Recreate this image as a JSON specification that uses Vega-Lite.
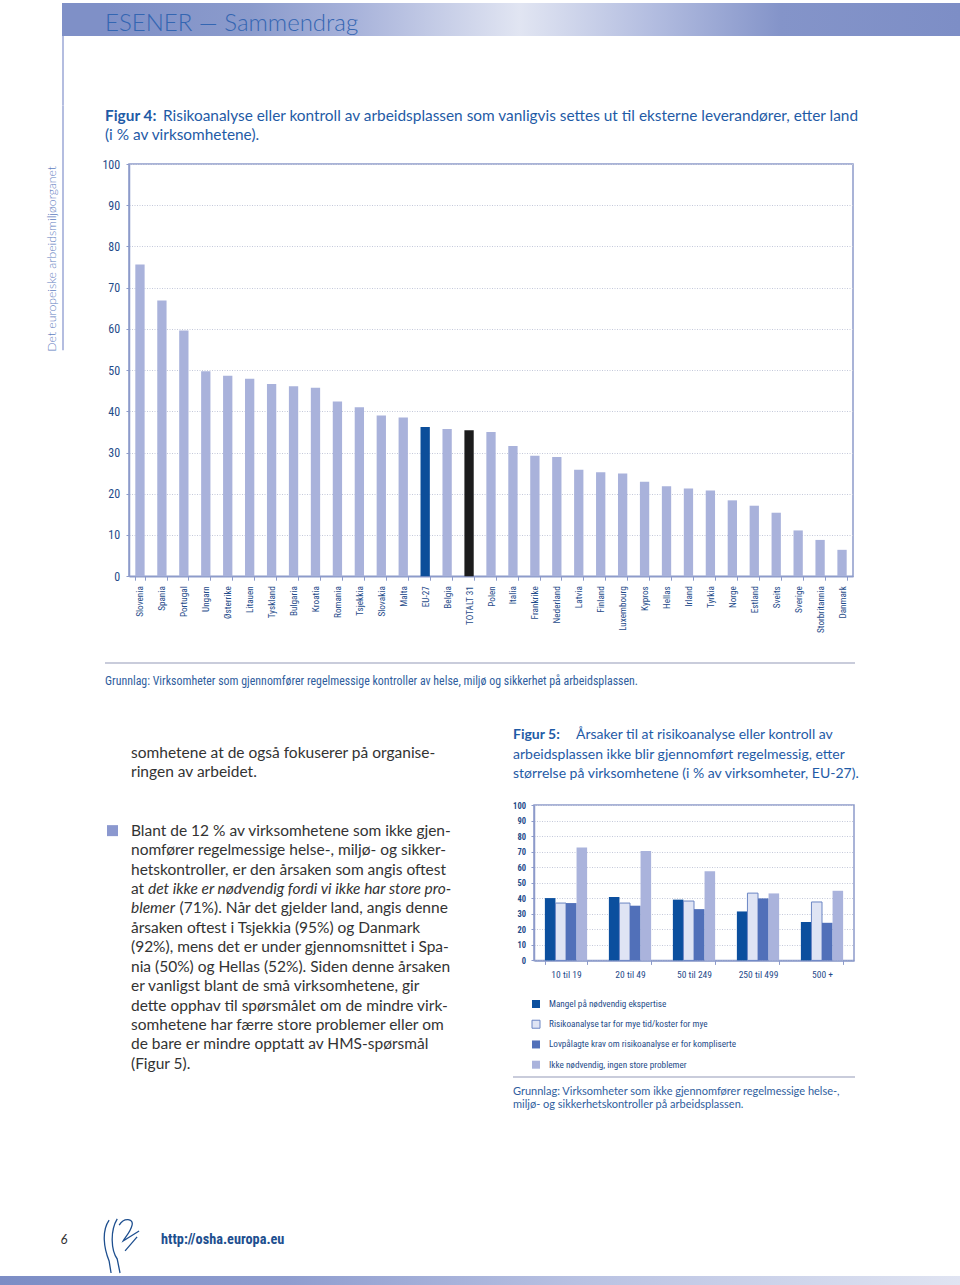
{
  "$schema": "https://vega.github.io/schema/vega-lite/v6.json",
  "padding": 0,
  "background": "white",
  "spacing": 0,
  "config": {"view": {"stroke": null}},
  "data": {"name": "empty"},
  "datasets": {
    "empty": [],
    "one": [{}],
    "land": [
      {"land": "Slovenia", "pct": 75.6}, {"land": "Spania", "pct": 66.9}, {"land": "Portugal", "pct": 59.6},
      {"land": "Ungarn", "pct": 49.7}, {"land": "Østerrike", "pct": 48.6}, {"land": "Litauen", "pct": 47.9},
      {"land": "Tyskland", "pct": 46.6}, {"land": "Bulgaria", "pct": 46.1}, {"land": "Kroatia", "pct": 45.7},
      {"land": "Romania", "pct": 42.4}, {"land": "Tsjekkia", "pct": 41.0}, {"land": "Slovakia", "pct": 39.0},
      {"land": "Malta", "pct": 38.5}, {"land": "EU-27", "pct": 36.2}, {"land": "Belgia", "pct": 35.7},
      {"land": "TOTALT 31", "pct": 35.4}, {"land": "Polen", "pct": 35.0}, {"land": "Italia", "pct": 31.6},
      {"land": "Frankrike", "pct": 29.2}, {"land": "Nederland", "pct": 28.9}, {"land": "Latvia", "pct": 25.8},
      {"land": "Finland", "pct": 25.2}, {"land": "Luxembourg", "pct": 24.9}, {"land": "Kypros", "pct": 22.9},
      {"land": "Hellas", "pct": 21.8}, {"land": "Irland", "pct": 21.3}, {"land": "Tyrkia", "pct": 20.8},
      {"land": "Norge", "pct": 18.4}, {"land": "Estland", "pct": 17.1}, {"land": "Sveits", "pct": 15.4},
      {"land": "Sverige", "pct": 11.1}, {"land": "Storbritannia", "pct": 8.8}, {"land": "Danmark", "pct": 6.4}
    ],
    "storrelse": [
      {"storrelse": "10 til 19", "arsak": "Mangel på nødvendig ekspertise", "pct": 40.1},
      {"storrelse": "10 til 19", "arsak": "Risikoanalyse tar for mye tid/koster for mye", "pct": 36.9},
      {"storrelse": "10 til 19", "arsak": "Lovpålagte krav om risikoanalyse er for kompliserte", "pct": 36.9},
      {"storrelse": "10 til 19", "arsak": "Ikke nødvendig, ingen store problemer", "pct": 72.7},
      {"storrelse": "20 til 49", "arsak": "Mangel på nødvendig ekspertise", "pct": 40.8},
      {"storrelse": "20 til 49", "arsak": "Risikoanalyse tar for mye tid/koster for mye", "pct": 36.9},
      {"storrelse": "20 til 49", "arsak": "Lovpålagte krav om risikoanalyse er for kompliserte", "pct": 35.2},
      {"storrelse": "20 til 49", "arsak": "Ikke nødvendig, ingen store problemer", "pct": 70.4},
      {"storrelse": "50 til 249", "arsak": "Mangel på nødvendig ekspertise", "pct": 39.1},
      {"storrelse": "50 til 249", "arsak": "Risikoanalyse tar for mye tid/koster for mye", "pct": 38.2},
      {"storrelse": "50 til 249", "arsak": "Lovpålagte krav om risikoanalyse er for kompliserte", "pct": 33.0},
      {"storrelse": "50 til 249", "arsak": "Ikke nødvendig, ingen store problemer", "pct": 57.3},
      {"storrelse": "250 til 499", "arsak": "Mangel på nødvendig ekspertise", "pct": 31.5},
      {"storrelse": "250 til 499", "arsak": "Risikoanalyse tar for mye tid/koster for mye", "pct": 43.3},
      {"storrelse": "250 til 499", "arsak": "Lovpålagte krav om risikoanalyse er for kompliserte", "pct": 39.9},
      {"storrelse": "250 til 499", "arsak": "Ikke nødvendig, ingen store problemer", "pct": 43.1},
      {"storrelse": "500 +", "arsak": "Mangel på nødvendig ekspertise", "pct": 24.7},
      {"storrelse": "500 +", "arsak": "Risikoanalyse tar for mye tid/koster for mye", "pct": 37.6},
      {"storrelse": "500 +", "arsak": "Lovpålagte krav om risikoanalyse er for kompliserte", "pct": 24.2},
      {"storrelse": "500 +", "arsak": "Ikke nødvendig, ingen store problemer", "pct": 44.8}
    ],
    "arsaker": [
      {"arsak": "Mangel på nødvendig ekspertise"},
      {"arsak": "Risikoanalyse tar for mye tid/koster for mye"},
      {"arsak": "Lovpålagte krav om risikoanalyse er for kompliserte"},
      {"arsak": "Ikke nødvendig, ingen store problemer"}
    ],
    "t5": [
      {"i": 1, "t": "arbeidsplassen ikke blir gjennomført regelmessig, etter"},
      {"i": 2, "t": "størrelse på virksomhetene (i % av virksomheter, EU-27)."}
    ],
    "leftr": [
      {"i": 2, "t": "somhetene at de også fokuserer på organise-"},
      {"i": 3, "t": "ringen av arbeidet."},
      {"i": 6, "t": "Blant de 12 % av virksomhetene som ikke gjen-"},
      {"i": 7, "t": "nomfører regelmessige helse-, miljø- og sikker-"},
      {"i": 8, "t": "hetskontroller, er den årsaken som angis oftest"},
      {"i": 9, "t": "at"},
      {"i": 11, "t": "årsaken oftest i Tsjekkia (95%) og Danmark"},
      {"i": 12, "t": "(92%), mens det er under gjennomsnittet i Spa-"},
      {"i": 13, "t": "nia (50%) og Hellas (52%). Siden denne årsaken"},
      {"i": 14, "t": "er vanligst blant de små virksomhetene, gir"},
      {"i": 15, "t": "dette opphav til spørsmålet om de mindre virk-"},
      {"i": 16, "t": "somhetene har færre store problemer eller om"},
      {"i": 17, "t": "de bare er mindre opptatt av HMS-spørsmål"},
      {"i": 18, "t": "(Figur 5)."}
    ],
    "left10r": [
      {"i": 10, "t": "(71%). Når det gjelder land, angis denne"}
    ],
    "lefti9": [
      {"i": 9, "t": "det ikke er nødvendig fordi vi ikke har store pro-"}
    ],
    "lefti10": [
      {"i": 10, "t": "blemer"}
    ],
    "fn2": [
      {"i": 1, "t": "Grunnlag: Virksomheter som ikke gjennomfører regelmessige helse-,"},
      {"i": 2, "t": "miljø- og sikkerhetskontroller på arbeidsplassen."}
    ]
  },
  "vconcat": [
    {"width": 960, "height": 3, "mark": "rect", "encoding": {}},

    {"hconcat": [
      {"width": 62, "height": 33, "mark": "rect", "encoding": {}},
      {"width": 43, "height": 33, "mark": "rect", "encoding": {}, "view": {"fill": "#7f90c7", "stroke": null}},
      {"width": 855, "height": 33, "data": {"name": "one"}, "layer": [
        {"mark": {"type": "rect", "color": {"gradient": "linear", "x1": 0, "y1": 0, "x2": 1, "y2": 0, "stops": [
          {"offset": 0, "color": "#7f90c7"}, {"offset": 0.17, "color": "#8b9bcc"}, {"offset": 0.29, "color": "#a7b2da"},
          {"offset": 0.485, "color": "#e1e5f2"}, {"offset": 0.64, "color": "#b3bde0"}, {"offset": 0.79, "color": "#8494c9"},
          {"offset": 1, "color": "#7d8ec6"}]}}, "encoding": {}},
        {"mark": {"type": "text", "text": "ESENER — Sammendrag", "align": "left", "baseline": "middle", "dy": 4, "font": "Lato, Open Sans, sans-serif", "fontSize": 24, "fontWeight": 300, "color": "#3466b2"},
         "encoding": {"x": {"datum": 0, "type": "quantitative", "scale": {"domain": [0, 1]}, "axis": null}}}
      ]}
    ], "spacing": 0, "bounds": "flush"},

    {"hconcat": [
      {"width": 62, "height": 69.7, "mark": "rect", "encoding": {}},
      {"width": 2, "height": 69.7, "mark": "rect", "encoding": {}, "view": {"fill": "#b4bde0", "stroke": null}}
    ], "spacing": 0, "bounds": "flush"},

    {"hconcat": [
      {"width": 62, "height": 19, "mark": "rect", "encoding": {}},
      {"width": 2, "height": 19, "mark": "rect", "encoding": {}, "view": {"fill": "#b4bde0", "stroke": null}},
      {"width": 41, "height": 1, "mark": "rect", "encoding": {}},
      {"width": 58, "height": 19, "data": {"name": "one"},
       "mark": {"type": "text", "text": "Figur 4:", "align": "left", "baseline": "middle", "font": "Lato, Open Sans, sans-serif", "fontSize": 15.4, "fontWeight": "bold", "color": "#1f5ba6"},
       "encoding": {"x": {"datum": 0, "type": "quantitative", "scale": {"domain": [0, 1]}, "axis": null}}},
      {"width": 692, "height": 19, "data": {"name": "one"},
       "mark": {"type": "text", "text": "Risikoanalyse eller kontroll av arbeidsplassen som vanligvis settes ut til eksterne leverandører, etter land", "align": "left", "baseline": "middle", "font": "Lato, Open Sans, sans-serif", "fontSize": 15.4, "color": "#1f5ba6"},
       "encoding": {"x": {"datum": 0, "type": "quantitative", "scale": {"domain": [0, 1]}, "axis": null}}}
    ], "spacing": 0, "bounds": "flush"},

    {"hconcat": [
      {"width": 62, "height": 19, "mark": "rect", "encoding": {}},
      {"width": 2, "height": 19, "mark": "rect", "encoding": {}, "view": {"fill": "#b4bde0", "stroke": null}},
      {"width": 41, "height": 1, "mark": "rect", "encoding": {}},
      {"width": 750, "height": 19, "data": {"name": "one"},
       "mark": {"type": "text", "text": "(i % av virksomhetene).", "align": "left", "baseline": "middle", "font": "Lato, Open Sans, sans-serif", "fontSize": 15.4, "color": "#1f5ba6"},
       "encoding": {"x": {"datum": 0, "type": "quantitative", "scale": {"domain": [0, 1]}, "axis": null}}}
    ], "spacing": 0, "bounds": "flush"},

    {"hconcat": [
      {"width": 42, "height": 517.6, "mark": "rect", "encoding": {}},
      {"width": 20, "height": 229.6, "data": {"name": "one"},
       "mark": {"type": "text", "text": "Det europeiske arbeidsmiljøorganet", "angle": 270, "align": "center", "baseline": "middle", "font": "Lato, Open Sans, sans-serif", "fontSize": 12.2, "fontWeight": 300, "color": "#5f7dc0"},
       "encoding": {}},
      {"width": 2, "height": 206.3, "mark": "rect", "encoding": {}, "view": {"fill": "#b4bde0", "stroke": null}},
      {"width": 41, "height": 1, "mark": "rect", "encoding": {}},
      {"vconcat": [
        {"width": 1, "height": 19.6, "mark": "rect", "encoding": {}},
        {"hconcat": [
          {"width": 24, "height": 1, "mark": "rect", "encoding": {}},
          {"width": 724, "height": 412.2, "data": {"name": "land"},
           "view": {"stroke": "#8d9bca", "strokeWidth": 1.5},
           "mark": {"type": "bar"},
           "encoding": {
             "x": {"field": "land", "type": "nominal", "sort": null, "title": null,
               "scale": {"paddingInner": 0.576, "paddingOuter": 0.288},
               "axis": {"labelAngle": -90, "labelAlign": "right", "labelBaseline": "middle", "labelPadding": 5.5, "tickBand": "extent", "tickSize": 4,
                 "tickColor": "#8d9bca", "domainColor": "#8d9bca", "domainWidth": 1.5, "labelFont": "Roboto Condensed, Liberation Sans Narrow, DejaVu Sans Condensed, sans-serif",
                 "labelFontSize": 9.2, "labelColor": "#1f4c8a"}},
             "y": {"field": "pct", "type": "quantitative", "title": null, "scale": {"domain": [0, 100], "nice": false},
               "axis": {"values": [0, 10, 20, 30, 40, 50, 60, 70, 80, 90, 100], "grid": true, "gridDash": [1, 1.5], "gridColor": "#c4c9da",
                 "tickSize": 3, "tickColor": "#8d9bca", "domainColor": "#8d9bca", "domainWidth": 1.5, "labelPadding": 6.3,
                 "labelFont": "Roboto Condensed, Liberation Sans Narrow, DejaVu Sans Condensed, sans-serif", "labelFontSize": 12, "labelColor": "#1f4c8a"}},
             "color": {"condition": [{"test": "datum.land === 'EU-27'", "value": "#0c4e9a"}, {"test": "datum.land === 'TOTALT 31'", "value": "#1c1c1c"}], "value": "#a9b2db"}
           }}
        ], "spacing": 0, "bounds": "flush"}
      ], "spacing": 0, "bounds": "flush"}
    ], "spacing": 0, "bounds": "flush"},

    {"hconcat": [
      {"width": 105, "height": 2, "mark": "rect", "encoding": {}},
      {"width": 750, "height": 2, "mark": "rect", "encoding": {}, "view": {"fill": "#c9ccdb", "stroke": null}}
    ], "spacing": 0, "bounds": "flush"},

    {"hconcat": [
      {"width": 105, "height": 34.4, "mark": "rect", "encoding": {}},
      {"width": 750, "height": 34.4, "data": {"name": "one"},
       "mark": {"type": "text", "text": "Grunnlag: Virksomheter som gjennomfører regelmessige kontroller av helse, miljø og sikkerhet på arbeidsplassen.", "align": "left", "baseline": "middle", "font": "Roboto Condensed, Liberation Sans Narrow, DejaVu Sans Condensed, sans-serif", "fontSize": 11.9, "color": "#2f5e9e"},
       "encoding": {"x": {"datum": 0, "type": "quantitative", "scale": {"domain": [0, 1]}, "axis": null}}}
    ], "spacing": 0, "bounds": "flush"},

    {"width": 1, "height": 14.5, "mark": "rect", "encoding": {}},

    {"hconcat": [
      {"width": 107, "height": 405.2, "mark": "rect", "encoding": {}},
      {"width": 11, "height": 388.8, "data": {"name": "one"},
       "mark": {"type": "square", "size": 121, "color": "#8b98cf", "opacity": 1},
       "encoding": {"y": {"datum": 6, "type": "quantitative", "scale": {"domain": [0, 20], "reverse": true}, "axis": null}}},
      {"width": 13, "height": 1, "mark": "rect", "encoding": {}},
      {"width": 314, "height": 388.8, "layer": [
        {"data": {"name": "leftr"},
         "mark": {"type": "text", "align": "left", "baseline": "middle", "font": "Lato, Open Sans, sans-serif", "fontSize": 15.5, "color": "#333333"},
         "encoding": {"x": {"datum": 0, "type": "quantitative", "scale": {"domain": [0, 1]}, "axis": null},
           "y": {"field": "i", "type": "quantitative", "scale": {"domain": [0, 20], "reverse": true}, "axis": null},
           "text": {"field": "t"}}},
        {"data": {"name": "left10r"},
         "mark": {"type": "text", "align": "left", "baseline": "middle", "dx": 48.5, "font": "Lato, Open Sans, sans-serif", "fontSize": 15.5, "color": "#333333"},
         "encoding": {"x": {"datum": 0, "type": "quantitative", "scale": {"domain": [0, 1]}, "axis": null},
           "y": {"field": "i", "type": "quantitative", "scale": {"domain": [0, 20], "reverse": true}, "axis": null},
           "text": {"field": "t"}}},
        {"data": {"name": "lefti9"},
         "mark": {"type": "text", "align": "left", "baseline": "middle", "dx": 17, "font": "Lato, Open Sans, sans-serif", "fontSize": 15.5, "fontStyle": "italic", "color": "#333333"},
         "encoding": {"x": {"datum": 0, "type": "quantitative", "scale": {"domain": [0, 1]}, "axis": null},
           "y": {"field": "i", "type": "quantitative", "scale": {"domain": [0, 20], "reverse": true}, "axis": null},
           "text": {"field": "t"}}},
        {"data": {"name": "lefti10"},
         "mark": {"type": "text", "align": "left", "baseline": "middle", "font": "Lato, Open Sans, sans-serif", "fontSize": 15.5, "fontStyle": "italic", "color": "#333333"},
         "encoding": {"x": {"datum": 0, "type": "quantitative", "scale": {"domain": [0, 1]}, "axis": null},
           "y": {"field": "i", "type": "quantitative", "scale": {"domain": [0, 20], "reverse": true}, "axis": null},
           "text": {"field": "t"}}}
      ]},
      {"width": 68, "height": 1, "mark": "rect", "encoding": {}},
      {"vconcat": [
        {"width": 1, "height": 10.1, "mark": "rect", "encoding": {}},
        {"hconcat": [
          {"width": 63, "height": 19.2, "data": {"name": "one"},
           "mark": {"type": "text", "text": "Figur 5:", "align": "left", "baseline": "middle", "font": "Lato, Open Sans, sans-serif", "fontSize": 14, "fontWeight": "bold", "color": "#1f5ba6"},
           "encoding": {"x": {"datum": 0, "type": "quantitative", "scale": {"domain": [0, 1]}, "axis": null}}},
          {"width": 279, "height": 19.2, "data": {"name": "one"},
           "mark": {"type": "text", "text": "Årsaker til at risikoanalyse eller kontroll av", "align": "left", "baseline": "middle", "font": "Lato, Open Sans, sans-serif", "fontSize": 14, "color": "#1f5ba6"},
           "encoding": {"x": {"datum": 0, "type": "quantitative", "scale": {"domain": [0, 1]}, "axis": null}}}
        ], "spacing": 0, "bounds": "flush"},
        {"width": 342, "height": 38.4, "data": {"name": "t5"},
         "mark": {"type": "text", "align": "left", "baseline": "middle", "font": "Lato, Open Sans, sans-serif", "fontSize": 14, "color": "#1f5ba6"},
         "encoding": {"x": {"datum": 0, "type": "quantitative", "scale": {"domain": [0, 1]}, "axis": null},
           "y": {"field": "i", "type": "quantitative", "scale": {"domain": [0.5, 2.5], "reverse": true}, "axis": null},
           "text": {"field": "t"}}},
        {"width": 1, "height": 15.6, "mark": "rect", "encoding": {}},
        {"hconcat": [
          {"width": 21, "height": 190.7, "mark": "rect", "encoding": {}},
          {"width": 320, "height": 155.4, "data": {"name": "storrelse"},
           "view": {"stroke": "#8d9bca", "strokeWidth": 1.5},
           "mark": {"type": "bar", "strokeWidth": 1},
           "encoding": {
             "x": {"field": "storrelse", "type": "nominal", "sort": null, "title": null,
               "scale": {"paddingInner": 0.34, "paddingOuter": 0.17},
               "axis": {"labelAngle": 0, "tickBand": "extent", "tickSize": 4, "tickColor": "#8d9bca", "domainColor": "#8d9bca", "domainWidth": 1.5,
                 "labelPadding": 5, "labelFont": "Roboto Condensed, Liberation Sans Narrow, DejaVu Sans Condensed, sans-serif", "labelFontSize": 9.5, "labelColor": "#1f4c8a"}},
             "xOffset": {"field": "arsak", "type": "nominal", "sort": null, "scale": {"paddingInner": 0, "paddingOuter": 0}},
             "y": {"field": "pct", "type": "quantitative", "title": null, "scale": {"domain": [0, 100], "nice": false},
               "axis": {"values": [0, 10, 20, 30, 40, 50, 60, 70, 80, 90, 100], "grid": true, "gridDash": [1, 1.5], "gridColor": "#c4c9da",
                 "tickSize": 3, "tickColor": "#8d9bca", "domainColor": "#8d9bca", "domainWidth": 1.5, "labelPadding": 5.5,
                 "labelFont": "Roboto Condensed, Liberation Sans Narrow, DejaVu Sans Condensed, sans-serif", "labelFontSize": 8.5, "labelFontWeight": "bold", "labelColor": "#1f4c8a"}},
             "color": {"field": "arsak", "type": "nominal", "sort": null, "legend": null,
               "scale": {"domain": ["Mangel på nødvendig ekspertise", "Risikoanalyse tar for mye tid/koster for mye", "Lovpålagte krav om risikoanalyse er for kompliserte", "Ikke nødvendig, ingen store problemer"],
                 "range": ["#0b4f9e", "#dfe4f4", "#5170b9", "#aab3dc"]}},
             "stroke": {"condition": {"test": "datum.arsak === 'Risikoanalyse tar for mye tid/koster for mye'", "value": "#6b85c4"}, "value": null}
           }}
        ], "spacing": 0, "bounds": "flush"},
        {"hconcat": [
          {"width": 18, "height": 80, "mark": "rect", "encoding": {}},
          {"width": 10, "height": 80, "data": {"name": "arsaker"},
           "mark": {"type": "square", "size": 64, "opacity": 1, "strokeWidth": 1},
           "encoding": {
             "y": {"field": "arsak", "type": "nominal", "sort": null, "axis": null, "scale": {"type": "point", "padding": 0.477, "align": 0.4145}},
             "color": {"field": "arsak", "type": "nominal", "sort": null, "legend": null,
               "scale": {"domain": ["Mangel på nødvendig ekspertise", "Risikoanalyse tar for mye tid/koster for mye", "Lovpålagte krav om risikoanalyse er for kompliserte", "Ikke nødvendig, ingen store problemer"],
                 "range": ["#0b4f9e", "#dfe4f4", "#5170b9", "#aab3dc"]}},
             "stroke": {"condition": {"test": "datum.arsak === 'Risikoanalyse tar for mye tid/koster for mye'", "value": "#6b85c4"}, "value": null}
           }},
          {"width": 7.3, "height": 1, "mark": "rect", "encoding": {}},
          {"width": 300, "height": 80, "data": {"name": "arsaker"},
           "mark": {"type": "text", "align": "left", "baseline": "middle", "font": "Roboto Condensed, Liberation Sans Narrow, DejaVu Sans Condensed, sans-serif", "fontSize": 9.2, "color": "#1f4c8a"},
           "encoding": {"x": {"datum": 0, "type": "quantitative", "scale": {"domain": [0, 1]}, "axis": null},
             "y": {"field": "arsak", "type": "nominal", "sort": null, "axis": null, "scale": {"type": "point", "padding": 0.477, "align": 0.4145}},
             "text": {"field": "arsak"}}}
        ], "spacing": 0, "bounds": "flush"},
        {"width": 342, "height": 2, "mark": "rect", "encoding": {}, "view": {"fill": "#c9ccdb", "stroke": null}},
        {"width": 1, "height": 7, "mark": "rect", "encoding": {}},
        {"width": 342, "height": 26.4, "data": {"name": "fn2"},
         "mark": {"type": "text", "align": "left", "baseline": "middle", "font": "Lato, Open Sans, sans-serif", "fontSize": 11, "color": "#2f5e9e"},
         "encoding": {"x": {"datum": 0, "type": "quantitative", "scale": {"domain": [0, 1]}, "axis": null},
           "y": {"field": "i", "type": "quantitative", "scale": {"domain": [0.5, 2.5], "reverse": true}, "axis": null},
           "text": {"field": "t"}}}
      ], "spacing": 0, "bounds": "full"}
    ], "spacing": 0, "bounds": "flush"},

    {"width": 1, "height": 95.6, "mark": "rect", "encoding": {}},

    {"hconcat": [
      {"width": 57, "height": 58, "mark": "rect", "encoding": {}},
      {"width": 14, "height": 47.4, "data": {"name": "one"},
       "mark": {"type": "text", "text": "6", "align": "center", "baseline": "middle", "font": "Lato, Open Sans, sans-serif", "fontSize": 13, "fontStyle": "italic", "color": "#333333"},
       "encoding": {}},
      {"width": 30.7, "height": 1, "mark": "rect", "encoding": {}},
      {"width": 38.3, "height": 58, "data": {"name": "one"},
       "mark": {"type": "point", "shape": "M -0.43 -0.89 C -0.7 -0.5 -0.62 0.1 -0.43 0.57 L -0.36 1 M -0.14 -0.93 C -0.4 -0.5 -0.36 0.2 -0.14 0.5 L -0.04 1 M -0.07 -0.71 C 0.1 -1 0.45 -0.95 0.39 -0.71 C 0.33 -0.45 0.15 -0.3 0.07 -0.14 L 0.64 -0.5 M 0.57 -0.29 L 0.14 0.21",
         "size": 3136, "filled": false, "stroke": "#1e4f8f", "strokeWidth": 1.3, "opacity": 1},
       "encoding": {}},
      {"width": 19.3, "height": 1, "mark": "rect", "encoding": {}},
      {"width": 200, "height": 48, "data": {"name": "one"},
       "mark": {"type": "text", "text": "http://osha.europa.eu", "align": "left", "baseline": "middle", "font": "Roboto Condensed, Liberation Sans Narrow, DejaVu Sans Condensed, sans-serif", "fontSize": 14.3, "fontWeight": "bold", "color": "#1e4f8f"},
       "encoding": {"x": {"datum": 0, "type": "quantitative", "scale": {"domain": [0, 1]}, "axis": null}}}
    ], "spacing": 0, "bounds": "flush"},

    {"width": 960, "height": 14, "data": {"name": "one"},
     "mark": {"type": "rect", "color": {"gradient": "linear", "x1": 0, "y1": 0, "x2": 1, "y2": 0, "stops": [
       {"offset": 0, "color": "#7c8dc5"}, {"offset": 0.3, "color": "#8f9dcf"}, {"offset": 0.6, "color": "#b8c1e2"}, {"offset": 1, "color": "#e0e4f2"}]}},
     "encoding": {}}
  ]
}
